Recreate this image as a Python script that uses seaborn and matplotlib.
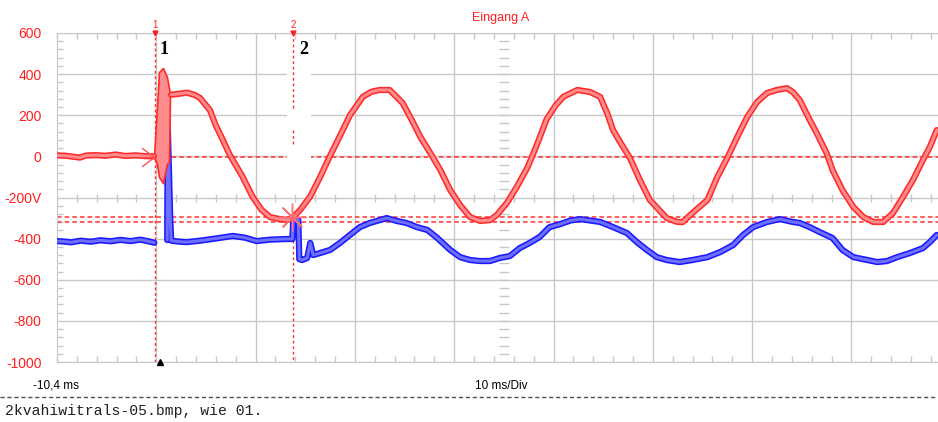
import numpy as np
import pandas as pd
import seaborn as sns
import matplotlib.pyplot as plt
from matplotlib.lines import Line2D
from matplotlib.path import Path

# Kanal A (rot) vor dem Trigger, in ms / V
red_pre_t = [-10.4, -9.5, -8.1, -7.5, -6.5, -5.5, -4.5, -3.5, -2.5, -1.5, -0.63]
red_pre_v = [5, 3, -6, 4, 6, 3, 9, 2, 5, 1, 0]

# Einschaltspitze (Huellkurve)
spike_t = [-0.63, -0.33, -0.13, 0.27, 0.68, 0.88, 0.98, 1.08]
spike_hi = [0, 240, 410, 430, 386, 330, 300, 300]
spike_lo = [0, -40, -100, -130, -35, -30, 290, 300]

# Kanal A nach dem Trigger
red_t = [1.1, 2.0, 2.7, 3.5, 4.0, 5.0, 5.6, 6.3, 7.0, 8.3, 9.3, 10.2, 11.05, 12.05, 12.8,
         13.4, 14.1, 15.1, 16.1, 17.1, 18.1, 19.1, 20.4, 21.3, 22.1, 23.1, 24.4, 25.35, 26.2, 27.4,
         28.2, 29.2, 30.2, 31.2, 32.2, 33.2, 33.9, 34.9, 35.9, 37.0, 38.0, 38.9, 39.85, 40.6, 42.0,
         43.3, 44.3, 45.0, 45.6, 46.3, 47.3, 48.3, 49.3, 51.0, 52.0, 52.6, 53.6, 55.1, 56.1, 57.1,
         58.1, 59.1, 60.1, 61.1, 62.1, 63.1, 63.7, 64.4, 65.4, 66.1, 67.1, 67.7, 68.7, 69.8, 70.8,
         71.8, 72.8, 73.8, 74.8, 75.8, 76.8, 77.5, 78.2]
red_v = [300, 305, 310, 298, 284, 225, 150, 80, 7, -100, -197, -260, -295, -305, -310,
         -295, -260, -195, -100, 3, 100, 200, 290, 315, 323, 323, 260, 175, 94, 0,
         -66, -164, -237, -295, -314, -310, -285, -227, -149, -52, 65, 180, 250, 290, 323,
         313, 289, 211, 128, 70, -8, -115, -212, -300, -318, -320, -275, -212, -100, -8,
         94, 191, 264, 308, 323, 332, 313, 274, 177, 114, 16, -66, -164, -246, -295,
         -319, -319, -275, -197, -115, -18, 46, 128]

# Kanal B (blau)
blue_pre_t = [-10.4, -9.5, -9.0, -8.0, -7.0, -6.0, -5.0, -4.0, -3.0, -2.0, -1.0, -0.6]
blue_pre_v = [-412, -415, -418, -410, -415, -408, -413, -406, -412, -405, -415, -420]

blue_t = [0.7, 0.75, 1.0, 1.1, 2.0, 2.7, 4.0, 5.5, 7.3, 8.5, 9.7, 11.05, 12.55, 13.3, 13.4,
          13.9, 14.0, 14.3, 14.8, 15.1, 15.4, 16.1, 17.1, 18.1, 19.1, 20.1, 21.1, 22.1, 22.8, 23.8,
          24.8, 25.85, 26.9, 27.9, 29.2, 30.2, 31.2, 32.2, 33.2, 34.2, 35.2, 36.2, 37.2, 38.2, 39.2,
          40.3, 41.3, 42.3, 43.3, 44.3, 45.6, 47.0, 48.0, 49.0, 50.0, 51.0, 52.3, 53.6, 55.1, 56.4,
          57.7, 58.7, 59.7, 61.1, 62.4, 63.7, 64.4, 65.4, 66.4, 67.7, 68.7, 69.8, 71.2, 72.2, 73.2,
          74.2, 75.5, 76.8, 77.5, 78.2]
blue_v = [-407, 160, -300, -410, -415, -417, -410, -400, -387, -395, -412, -405, -402, -402, -300,
          -310, -500, -504, -494, -421, -480, -470, -455, -421, -382, -344, -324, -310, -300, -314,
          -324, -344, -358, -397, -455, -490, -504, -509, -509, -494, -485, -446, -421, -392, -344,
          -329, -312, -305, -312, -319, -344, -373, -417, -455, -490, -504, -514, -504, -490, -465,
          -431, -382, -344, -319, -305, -319, -324, -344, -368, -397, -455, -490, -504, -514, -509,
          -490, -470, -446, -417, -382]

ytick_vals = [600, 400, 200, 0, -200, -400, -600, -800, -1000]
ytick_txt = ['600', '400', '200', '0', '-200V', '-400', '-600', '-800', '-1000']

cursor1_t = -0.55
cursor2_t = 13.4
cursor_levels = [-3, -293, -321]

RED_DARK = '#ff2a2a'
RED_LIGHT = '#ff8c8c'
BLUE_DARK = '#1a1aff'
BLUE_LIGHT = '#6e6eff'
GRID = '#c8c8c8'
TXT_RED = '#ff1e1e'

sns.set_style('white')
plt.rcParams['font.family'] = ['Liberation Sans', 'DejaVu Sans']

W, H = 938, 422
fig = plt.figure(figsize=(W / 100, H / 100), dpi=100)
ax = fig.add_axes([57 / W, 1 - 362 / H, 881 / W, 329 / H])
x0, x1 = -10.4, -10.4 + 881 / 9.93
ax.set_xlim(x0, x1)
ax.set_ylim(-1000, 600)


def trace(t, v, dark, light, z):
    df = pd.DataFrame({'t': t, 'v': v})
    sns.lineplot(data=df, x='t', y='v', sort=False, estimator=None, color=dark,
                 lw=4.5, ax=ax, zorder=z)
    sns.lineplot(data=df, x='t', y='v', sort=False, estimator=None, color=light,
                 lw=2.2, ax=ax, zorder=z + 0.1)


# Gitter
ax.set_xticks(np.arange(-0.4, x1, 10))
ax.set_xticklabels([])
ax.set_yticks(ytick_vals)
ax.set_yticklabels(ytick_txt, color=TXT_RED, fontsize=10)
ax.grid(True, color=GRID, lw=1, zorder=0)
ax.set_xticks(np.arange(-10.4, x1, 2), minor=True)
ax.set_yticks(np.arange(-1000, 601, 40), minor=True)
ax.tick_params(which='major', length=0, pad=11)
ax.tick_params(which='minor', direction='in', length=4, color=GRID, width=1,
               top=True, bottom=True, left=True)
for s in ['left', 'top', 'bottom']:
    ax.spines[s].set_color(GRID)
ax.spines['right'].set_visible(False)

# Mittelachsen mit Teilstrichen
xc = x0 + 4.5 * 10
ymarks = np.arange(-1000, 601, 40)
ax.plot([xc] * len(ymarks), ymarks, ls='none', marker='_', ms=7, mew=1, color=GRID, zorder=0.5)
xmarks = np.arange(-10.4, x1, 2)
ax.plot(xmarks, [-200] * len(xmarks), ls='none', marker='|', ms=5.5, mew=1, color=GRID, zorder=0.5)

# Cursorlinien
for lv in cursor_levels:
    ax.axhline(lv, color='#ff3030', ls=(0, (3, 2)), lw=1.1, zorder=1)
ax.axvline(cursor1_t, color='#ff3030', ls=(0, (2, 2)), lw=1, zorder=1)

# weisses Feld bei Cursor 2
ax.fill_between([12.8, 15.2], -25, 560, color='white', zorder=1.5, lw=0)
for a, b in [(600, 235), (128, 55), (-300, -1000)]:
    ax.plot([cursor2_t, cursor2_t], [a, b], color='#ff3030', ls=(0, (2, 2)), lw=1, zorder=1.6)

# Kurven
trace(blue_pre_t, blue_pre_v, BLUE_DARK, BLUE_LIGHT, 3)
trace(blue_t, blue_v, BLUE_DARK, BLUE_LIGHT, 3)
ax.fill_between(spike_t, spike_lo, spike_hi, color=RED_LIGHT, ec=RED_DARK, lw=1.2, zorder=4)
trace(red_pre_t, red_pre_v, RED_DARK, RED_LIGHT, 4)
trace(red_t, red_v, RED_DARK, RED_LIGHT, 4)
ax.set_xlabel('')
ax.set_ylabel('')

# Markierungen
arrow = Path([(0, 0), (-1, 0.75), (0, 0), (-1, 0), (0, 0), (-1, -0.75)],
             [Path.MOVETO, Path.LINETO, Path.MOVETO, Path.LINETO, Path.MOVETO, Path.LINETO])
ax.plot([cursor1_t - 0.1], [-3], marker=arrow, ms=18, mew=1, color='#ff5050', ls='none', zorder=5)
ax.plot([cursor2_t - 0.1], [-295], marker=(8, 2, 0), ms=20, mew=1, color='#ff7070', ls='none', zorder=5)
ax.plot([0], [-1000], marker='^', ms=4, color='black', ls='none', clip_on=False, zorder=6)
for ct in [cursor1_t, cursor2_t]:
    ax.plot([ct], [600], marker='v', ms=3.5, color=TXT_RED, ls='none', clip_on=False, zorder=6)


# Texte
def fx(px):
    return px / W


def fy(py):
    return 1 - py / H


fig.text(fx(155), fy(25), '1', color=TXT_RED, fontsize=7, ha='center', va='center')
fig.text(fx(293), fy(25), '2', color=TXT_RED, fontsize=7, ha='center', va='center')
fig.text(fx(501), fy(18), 'Eingang A', color=TXT_RED, fontsize=9, ha='center', va='center')
fig.text(fx(164), fy(50), '1', color='black', fontsize=13, fontweight='bold',
         family='Liberation Serif', ha='center', va='center')
fig.text(fx(304), fy(50), '2', color='black', fontsize=13, fontweight='bold',
         family='Liberation Serif', ha='center', va='center')
fig.text(fx(33), fy(386), '-10,4 ms', color='black', fontsize=8.5, ha='left', va='center')
fig.text(fx(501), fy(386), '10 ms/Div', color='black', fontsize=8.5, ha='center', va='center')
fig.add_artist(Line2D([0, 1], [fy(397), fy(397)], transform=fig.transFigure,
                      color='#505050', ls=(0, (3, 2)), lw=1))
fig.text(fx(5), fy(411), '2kvahiwitrals-05.bmp, wie 01.', color='#202020', fontsize=10.6,
         family='Liberation Mono', ha='left', va='center')

fig.savefig('out.png', dpi=100)
